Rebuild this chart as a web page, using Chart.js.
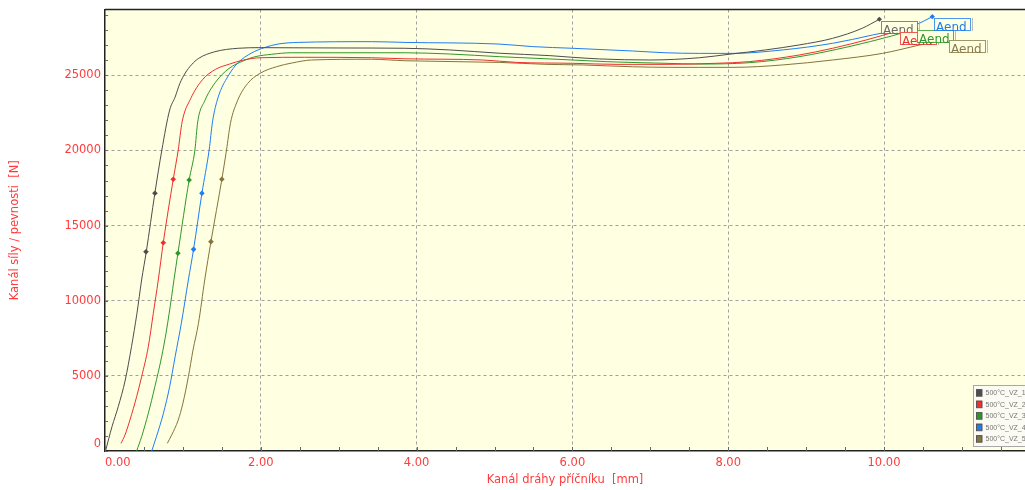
<!DOCTYPE html>
<html><head><meta charset="utf-8">
<script src="https://cdn.jsdelivr.net/npm/chart.js@4/dist/chart.umd.min.js"></script>
<style>html,body{margin:0;padding:0;background:#fff;overflow:hidden}#wrap{width:1025px;height:490px}</style>
</head><body><div id="wrap"><canvas id="c" width="1025" height="490"></canvas></div>
<script>
// ---- data ----
const seriesNames = ['500°C_VZ_1','500°C_VZ_2','500°C_VZ_3','500°C_VZ_4','500°C_VZ_5'];
const seriesColors = ['#4d4d4d','#ee2f2f','#2f972a','#1f7df2','#85743c'];
const xTicks = [0,2,4,6,8,10];
const yTicks = [0,5000,10000,15000,20000,25000];
const xTitle = 'Kanál dráhy příčníku  [mm]';
const yTitle = 'Kanál síly / pevnosti  [N]';
const endLabel = 'Aend';

const s1x = [0.01,0.09,0.17,0.26,0.34,0.41,0.47,0.53,0.64,0.73,0.83,0.90,0.96,1.03,1.11,1.20,1.41,1.71,2.00,3.00,3.85,4.42,5.06,5.71,6.00,6.35,6.99,7.63,8.01,8.48,8.91,9.34,9.72,9.94];
const s1y = [70,1620,2950,4720,6940,9160,11380,13260,17150,20030,22690,23550,24450,25150,25700,26120,26570,26800,26840,26820,26800,26690,26470,26310,26200,26090,26020,26170,26400,26690,27020,27460,28130,28730];

const s2x = [0.205,0.256,0.32,0.406,0.47,0.556,0.62,0.684,0.748,0.876,0.94,0.99,1.10,1.25,1.42,1.60,1.78,2.00,2.56,3.42,3.85,4.85,5.28,6.00,6.56,7.20,7.84,8.27,8.91,9.34,9.77,10.19];
const s2y = [510,1060,2060,3610,4940,6940,9160,11380,13860,18080,20030,21900,23450,24700,25400,25750,26020,26170,26200,26170,26100,26020,25860,25800,25730,25730,25800,25910,26350,26800,27350,27970];

const s3x = [0.406,0.47,0.556,0.64,0.727,0.79,0.855,0.885,0.936,1.08,1.154,1.19,1.28,1.42,1.59,1.77,1.92,2.14,2.39,3.85,4.42,5.06,5.71,6.00,6.43,7.20,7.63,8.27,8.91,9.55,10.10,10.41];
const s3y = [0,950,2510,4280,6270,8050,10270,11380,13160,18030,20030,21900,23300,24550,25450,25950,26230,26400,26500,26500,26420,26240,26090,26020,25910,25800,25750,25840,26240,26910,27620,28100];

const s4x = [0.60,0.66,0.75,0.83,0.90,0.98,1.07,1.137,1.244,1.337,1.38,1.45,1.58,1.71,1.88,2.05,2.22,2.48,3.42,3.85,5.06,5.49,6.00,6.77,7.20,7.63,8.06,8.70,9.34,9.85,10.40,10.62];
const s4y = [0,950,2510,4280,6270,8500,11380,13420,17150,20030,21900,23500,24950,25850,26480,26850,27080,27190,27240,27190,27080,26910,26800,26620,26500,26460,26460,26690,27130,27680,28350,28900];

const s5x = [0.80,0.855,0.94,1.00,1.07,1.13,1.20,1.28,1.36,1.50,1.56,1.61,1.70,1.83,1.99,2.20,2.41,2.65,3.42,3.85,5.06,5.66,6.13,6.77,7.29,7.63,8.06,8.70,9.34,9.98,10.40,10.81];
const s5y = [510,1060,2060,3170,4940,6720,8500,11380,13930,18080,20030,21800,23300,24450,25130,25570,25830,26020,26070,25970,25860,25730,25690,25570,25530,25530,25530,25690,26020,26460,26950,27460];

const markX = [[0.526,0.641],[0.748,0.876],[0.936,1.08],[1.137,1.244],[1.36,1.50]];
const markY = [[13260,17150],[13860,18080],[13160,18030],[13420,17150],[13930,18080]];

const curvesX = [s1x,s2x,s3x,s4x,s5x];
const curvesY = [s1y,s2y,s3y,s4y,s5y];

// ---- chart ----
const X_MAX = 11.81, Y_MAX = 29380;
const plotBg = '#ffffe1';
const labelRed = '#ff3b3b';
const FONT = 'DejaVu Sans';

function pts(xs, ys){ return xs.map((x,i)=>({x:x, y:ys[i]})); }

const datasets = [];
curvesX.forEach((xs,i)=>{
  const n = xs.length;
  datasets.push({
    label: seriesNames[i], data: pts(xs, curvesY[i]),
    borderColor: seriesColors[i], backgroundColor: seriesColors[i],
    borderWidth: 1, cubicInterpolationMode: 'monotone', fill: false,
    pointStyle: 'rectRot', pointBorderWidth: 0,
    pointRadius: ctx => ctx.dataIndex === n-1 ? 2.6 : 0,
    pointHoverRadius: 0
  });
});
markX.forEach((xs,i)=>{
  datasets.push({
    label: seriesNames[i] + ' body', data: pts(xs, markY[i]), showLine: false,
    pointStyle: 'rectRot', pointRadius: 2.8, pointBorderWidth: 0,
    backgroundColor: seriesColors[i], borderColor: seriesColors[i], pointHoverRadius: 0
  });
});

const decor = {
  id: 'decor',
  beforeDraw(chart){
    const {ctx, chartArea:a} = chart;
    ctx.save(); ctx.fillStyle = plotBg;
    ctx.fillRect(a.left, a.top, a.right-a.left, a.bottom-a.top);
    ctx.restore();
  },
  afterDatasetsDraw(chart){
    const {ctx, chartArea:a} = chart;
    const xs = chart.scales.x, ys = chart.scales.y;
    ctx.save();
    // minor ticks
    ctx.strokeStyle = '#666'; ctx.lineWidth = 1;
    ctx.beginPath();
    for (let v = 0; v <= Y_MAX; v += 1000){
      const py = Math.round(ys.getPixelForValue(v)) + 0.5;
      ctx.moveTo(a.left, py); ctx.lineTo(a.left+3, py);
    }
    for (let v = 0; v <= X_MAX; v += 0.5){
      const px = Math.round(xs.getPixelForValue(v)) + 0.5;
      ctx.moveTo(px, a.bottom); ctx.lineTo(px, a.bottom-4);
    }
    ctx.stroke();
    // frame top
    ctx.strokeStyle = '#222'; ctx.lineWidth = 1.5;
    ctx.beginPath(); ctx.moveTo(a.left, a.top); ctx.lineTo(a.right, a.top); ctx.stroke();

    // end labels
    ctx.font = '12px "' + FONT + '"';
    ctx.textBaseline = 'alphabetic';
    const textCols = ['#6a6a6a','#ee2f2f','#2f972a','#1f7df2','#8a7a4a'];
    for (let i = 0; i < curvesX.length; i++){
      const meta = chart.getDatasetMeta(i);
      const p = meta.data[meta.data.length-1];
      const bx = Math.round(p.x + 1.5), by = Math.round(p.y + 1.5), bw = 36, bh = 12;
      ctx.fillStyle = plotBg; ctx.fillRect(bx, by, bw, bh);
      ctx.strokeStyle = textCols[i]; ctx.lineWidth = 1; ctx.globalAlpha = 0.8;
      ctx.strokeRect(bx+0.5, by+0.5, bw, bh);
      ctx.strokeStyle = '#aaa';
      ctx.beginPath(); ctx.moveTo(bx+bw+2.5, by); ctx.lineTo(bx+bw+2.5, by+bh+1); ctx.stroke();
      ctx.globalAlpha = 1;
      ctx.fillStyle = textCols[i];
      ctx.fillText(endLabel, bx+2, by+bh+0.5);
    }

    // legend
    const lx = 973.5, ly = 385.5, lw = 70, lh = 61;
    ctx.fillStyle = '#fbfbf3'; ctx.fillRect(lx, ly, lw, lh);
    ctx.strokeStyle = '#a8a8a8'; ctx.lineWidth = 1; ctx.strokeRect(lx, ly, lw, lh);
    ctx.font = '7px "Liberation Sans"'; ctx.textBaseline = 'middle';
    for (let i = 0; i < seriesNames.length; i++){
      const cy = 392.7 + i*11.5;
      ctx.fillStyle = seriesColors[i];
      ctx.fillRect(976, cy-3.5, 6, 7);
      ctx.strokeStyle = '#555'; ctx.strokeRect(976.5, cy-3, 5.5, 6.5);
      ctx.fillStyle = '#777';
      ctx.fillText(seriesNames[i], 985.5, cy+0.5);
    }
    ctx.restore();
  }
};

new Chart(document.getElementById('c'), {
  type: 'line',
  data: { datasets },
  plugins: [decor],
  options: {
    responsive: false, animation: false, devicePixelRatio: 1,
    layout: { autoPadding: false, padding: { top: 9.5, right: 0, left: 0, bottom: 0 } },
    plugins: { legend: { display: false }, tooltip: { enabled: false } },
    scales: {
      x: {
        type: 'linear', min: 0, max: X_MAX,
        afterBuildTicks: s => { s.ticks = xTicks.map(v=>({value:v})).concat([{value:X_MAX}]); },
        afterFit: s => { s.height = 39; s.paddingLeft = 0; s.paddingRight = 0; },
        ticks: {
          align: 'inner', padding: 5, color: labelRed, maxRotation: 0, autoSkip: false,
          font: { family: FONT, size: 11.5 },
          callback: v => xTicks.includes(v) ? v.toFixed(2) : ''
        },
        grid: {
          drawTicks: false,
          color: c => (c.tick && c.tick.value > 0 && xTicks.includes(c.tick.value)) ? '#a0a0a0' : 'rgba(0,0,0,0)',
          lineWidth: 1
        },
        border: { display: true, color: '#222', width: 1.5, dash: [3,3] },
        title: { display: true, text: xTitle, color: labelRed, font: { family: FONT, size: 11.5 }, padding: { top: 3, bottom: 3 } }
      },
      y: {
        type: 'linear', min: 0, max: Y_MAX,
        afterBuildTicks: s => { s.ticks = yTicks.map(v=>({value:v})).concat([{value:Y_MAX}]); },
        afterFit: s => { s.width = 105; s.paddingTop = 0; s.paddingBottom = 0; },
        ticks: {
          padding: 4, color: labelRed, autoSkip: false,
          font: { family: FONT, size: 11.5 },
          callback: v => v === 0 ? ['0',''] : (yTicks.includes(v) ? String(v) : '')
        },
        grid: {
          drawTicks: false,
          color: c => (c.tick && c.tick.value > 0 && yTicks.includes(c.tick.value)) ? '#a0a0a0' : 'rgba(0,0,0,0)',
          lineWidth: 1
        },
        border: { display: true, color: '#222', width: 1.5, dash: [3,3] },
        title: { display: true, text: yTitle, color: labelRed, font: { family: FONT, size: 11.5 }, padding: { top: 8, bottom: 8 } }
      }
    }
  }
});
</script></body></html>
